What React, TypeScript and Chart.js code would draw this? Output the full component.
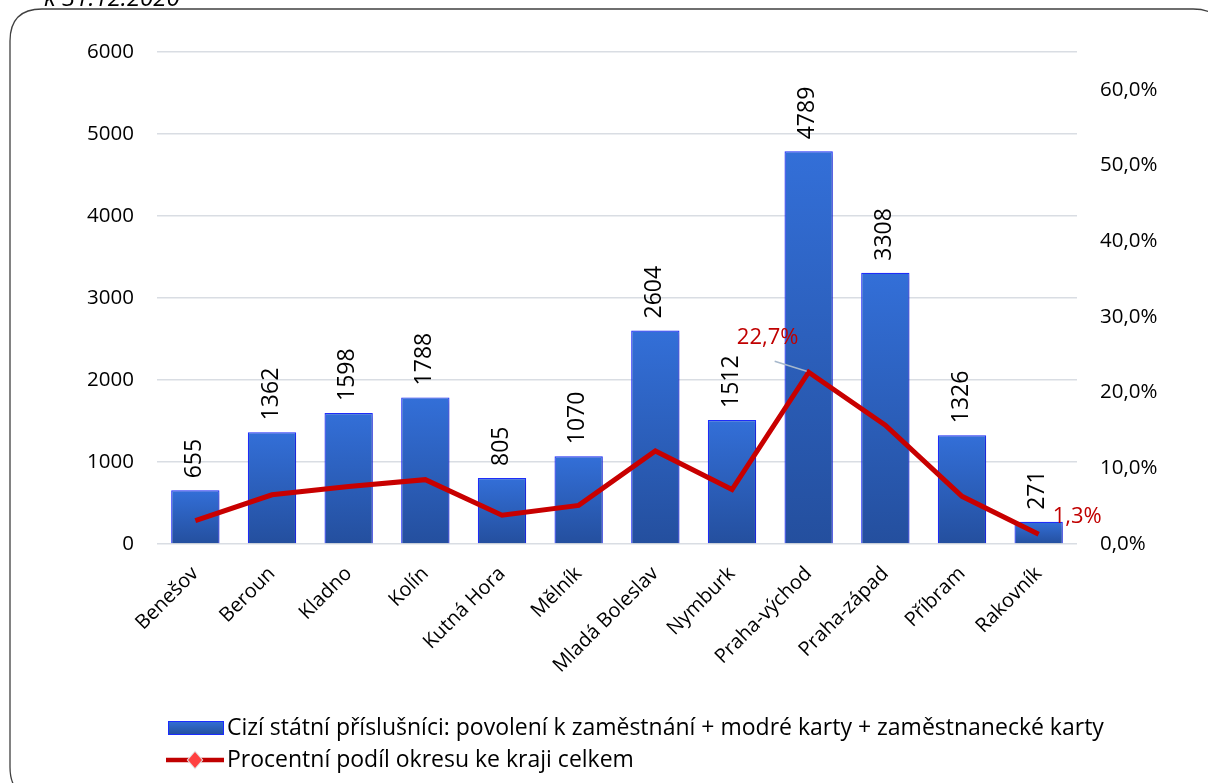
import React, { useEffect, useRef } from "react";
import { Chart, registerables } from "chart.js";

Chart.register(...registerables);

const categories = [
  "Benešov", "Beroun", "Kladno", "Kolín", "Kutná Hora", "Mělník",
  "Mladá Boleslav", "Nymburk", "Praha-východ", "Praha-západ", "Příbram", "Rakovník",
];
const workers = [655, 1362, 1598, 1788, 805, 1070, 2604, 1512, 4789, 3308, 1326, 271];
const shares = [3.1, 6.5, 7.6, 8.5, 3.8, 5.1, 12.3, 7.2, 22.7, 15.7, 6.3, 1.3];
const leftTicks = [0, 1000, 2000, 3000, 4000, 5000, 6000];
const rightTicks = [0, 10, 20, 30, 40, 50, 60];
const barLabel = "Cizí státní příslušníci: povolení k zaměstnání + modré karty + zaměstnanecké karty";
const lineLabel = "Procentní podíl okresu ke kraji celkem";
const subtitle = "k 31.12.2020";

const FONT = "'Open Sans', 'Noto Sans', sans-serif";
const W = 1208;
const H = 783;

const fmtPct = (v: number) => v.toFixed(1).replace(".", ",") + "%";

export default function App() {
  const ref = useRef<HTMLCanvasElement | null>(null);
  useEffect(() => {
    const canvas = ref.current!;
    const framePlugin = {
      id: "frame",
      beforeDraw(chart: any) {
        const ctx = chart.ctx;
        ctx.save();
        ctx.fillStyle = "#ffffff";
        ctx.fillRect(0, 0, W, H);
        const x = 10, y = 9, w = 1215, h = 790, r = 32;
        ctx.beginPath();
        ctx.moveTo(x + r, y);
        ctx.lineTo(x + w - r, y);
        ctx.quadraticCurveTo(x + w, y, x + w, y + r);
        ctx.lineTo(x + w, y + h - r);
        ctx.quadraticCurveTo(x + w, y + h, x + w - r, y + h);
        ctx.lineTo(x + r, y + h);
        ctx.quadraticCurveTo(x, y + h, x, y + h - r);
        ctx.lineTo(x, y + r);
        ctx.quadraticCurveTo(x, y, x + r, y);
        ctx.closePath();
        ctx.strokeStyle = "#404040";
        ctx.lineWidth = 1.3;
        ctx.stroke();
        ctx.fillStyle = "#000";
        ctx.font = `italic 24px ${FONT}`;
        ctx.textBaseline = "alphabetic";
        ctx.textAlign = "left";
        ctx.fillText(subtitle, 44, 6);
        ctx.restore();
      },
      beforeDatasetDraw(chart: any, args: any) {
        if (args.index === 0) {
          const ctx = chart.ctx;
          ctx.save();
          ctx.shadowColor = "rgba(0,0,0,0.22)";
          ctx.shadowBlur = 5;
          ctx.shadowOffsetX = 2;
          ctx.shadowOffsetY = 2;
        }
      },
      afterDatasetDraw(chart: any, args: any) {
        if (args.index === 0) chart.ctx.restore();
      },
      afterDraw(chart: any) {
        const ctx = chart.ctx;
        ctx.save();
        const bars = chart.getDatasetMeta(0).data;
        ctx.fillStyle = "#000";
        ctx.font = `23px ${FONT}`;
        ctx.textAlign = "left";
        ctx.textBaseline = "middle";
        bars.forEach((b: any, i: number) => {
          ctx.save();
          ctx.translate(b.x - 1, b.y - 12);
          ctx.rotate(-Math.PI / 2);
          ctx.fillText(String(workers[i]), 0, 0);
          ctx.restore();
        });
        const pts = chart.getDatasetMeta(1).data;
        const pv = pts[8];
        ctx.strokeStyle = "#a6b8cc";
        ctx.lineWidth = 1.5;
        ctx.beginPath();
        ctx.moveTo(pv.x - 2, pv.y - 1);
        ctx.lineTo(pv.x - 34, pv.y - 11);
        ctx.stroke();
        ctx.fillStyle = "#c00000";
        ctx.font = `22px ${FONT}`;
        ctx.textAlign = "center";
        ctx.textBaseline = "middle";
        ctx.fillText(fmtPct(shares[8]), pv.x - 41, pv.y - 34);
        const pr = pts[11];
        ctx.textAlign = "left";
        ctx.fillText(fmtPct(shares[11]), pr.x + 14, pr.y - 17);
        // legend
        const lx = 168;
        const ly1 = 728;
        const ly2 = 760;
        const g = ctx.createLinearGradient(0, ly1 - 7, 0, ly1 + 7);
        g.addColorStop(0, "#336fd6");
        g.addColorStop(1, "#234f9c");
        ctx.fillStyle = g;
        ctx.fillRect(lx, ly1 - 7, 56, 14);
        ctx.strokeStyle = "#1a2cff";
        ctx.lineWidth = 1;
        ctx.strokeRect(lx + 0.5, ly1 - 6.5, 55, 13);
        ctx.strokeStyle = "#c00000";
        ctx.lineWidth = 4.5;
        ctx.beginPath();
        ctx.moveTo(lx - 2, ly2);
        ctx.lineTo(lx + 56, ly2);
        ctx.stroke();
        ctx.fillStyle = "#ff4040";
        ctx.strokeStyle = "#e4e4e4";
        ctx.lineWidth = 2;
        ctx.beginPath();
        ctx.moveTo(lx + 27, ly2 - 8);
        ctx.lineTo(lx + 34, ly2);
        ctx.lineTo(lx + 27, ly2 + 8);
        ctx.lineTo(lx + 20, ly2);
        ctx.closePath();
        ctx.stroke();
        ctx.fill();
        ctx.fillStyle = "#000";
        ctx.font = `23px ${FONT}`;
        ctx.textAlign = "left";
        ctx.textBaseline = "middle";
        ctx.fillText(barLabel, lx + 59, ly1);
        ctx.fillText(lineLabel, lx + 59, ly2);
        ctx.restore();
      },
    };

    const chart = new Chart(canvas, {
      type: "bar",
      data: {
        labels: categories,
        datasets: [
          {
            type: "bar",
            label: barLabel,
            data: workers,
            yAxisID: "y",
            order: 2,
            backgroundColor: (c: any) => {
              const area = c.chart.chartArea;
              const ys = c.chart.scales?.y;
              if (!area || !ys || c.raw == null) return "#2d5fbf";
              const top = ys.getPixelForValue(c.raw);
              const g = c.chart.ctx.createLinearGradient(0, top, 0, area.bottom);
              g.addColorStop(0, "#336fd8");
              g.addColorStop(1, "#244f9e");
              return g;
            },
            borderColor: "#1f2eff",
            borderWidth: 1.2,
            categoryPercentage: 1,
            barPercentage: 0.63,
          },
          {
            type: "line",
            label: lineLabel,
            data: shares,
            yAxisID: "y1",
            order: 1,
            borderColor: "#c80000",
            borderWidth: 5,
            pointRadius: 0,
            tension: 0,
          },
        ],
      } as any,
      options: {
        responsive: false,
        animation: false,
        layout: { padding: { top: 52, bottom: 110, left: 0, right: 0 } },
        plugins: {
          legend: { display: false },
          tooltip: { enabled: false },
          title: { display: false },
        },
        scales: {
          x: {
            grid: { display: false },
            border: { display: false },
            ticks: {
              color: "#000",
              font: { family: FONT, size: 20 },
              minRotation: 45,
              maxRotation: 45,
              padding: 10,
              autoSkip: false,
            },
            afterFit: (s: any) => {
              s.height = H - 544 - 110;
            },
          },
          y: {
            position: "left",
            min: 0,
            max: 6000,
            afterBuildTicks: (s: any) => {
              s.ticks = leftTicks.map((v) => ({ value: v }));
            },
            grid: { color: "#d9dde3", lineWidth: 1.5, drawTicks: false },
            border: { display: false },
            ticks: {
              color: "#000",
              font: { family: FONT, size: 20.5 },
              padding: 23,
              callback: (v: any) => String(v),
            },
            afterFit: (s: any) => {
              s.width = 157;
            },
          },
          y1: {
            position: "right",
            min: 0,
            max: 65,
            afterBuildTicks: (s: any) => {
              s.ticks = rightTicks.map((v) => ({ value: v }));
            },
            grid: { display: false, drawTicks: false },
            border: { display: false },
            ticks: {
              color: "#000",
              font: { family: FONT, size: 20.5 },
              padding: 23,
              callback: (v: any) => fmtPct(Number(v)),
            },
            afterFit: (s: any) => {
              s.width = W - 1077;
            },
          },
        },
      } as any,
      plugins: [framePlugin],
    });
    return () => chart.destroy();
  }, []);

  return (
    <div style={{ position: "absolute", left: 0, top: 0, width: W, height: H, overflow: "hidden" }}>
      <canvas ref={ref} width={W} height={H} style={{ display: "block" }} />
    </div>
  );
}
